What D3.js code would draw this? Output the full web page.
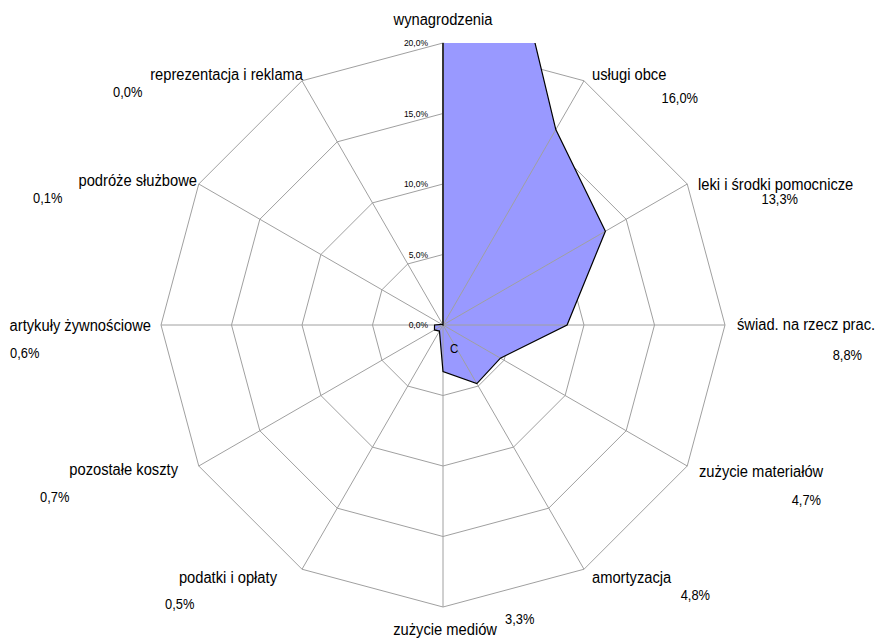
<!DOCTYPE html>
<html><head><meta charset="utf-8">
<script src="https://cdn.jsdelivr.net/npm/d3@7"></script>
<style>body{margin:0;background:#fff}svg{display:block}text{font-family:"Liberation Sans",Arial,sans-serif}</style>
</head><body>
<svg id="chart" width="877" height="638"></svg>
<script>
const categories = ["wynagrodzenia","usługi obce","leki i środki pomocnicze","świad. na rzecz prac.","zużycie materiałów","amortyzacja","zużycie mediów","podatki i opłaty","pozostałe koszty","artykuły żywnościowe","podróże służbowe","reprezentacja i reklama"];
const values = [47.2,16.0,13.3,8.8,4.7,4.8,3.3,0.5,0.7,0.6,0.1,0.0];
const valueLabels = ["47,2%","16,0%","13,3%","8,8%","4,7%","4,8%","3,3%","0,5%","0,7%","0,6%","0,1%","0,0%"];
const tickValues = [0,5,10,15,20];
const tickLabels = ["0,0%","5,0%","10,0%","15,0%","20,0%"];

// layout (label anchor points: category label [x,y,anchor], value label [x,y,anchor])
const layout = [
  {c:[443,25,"middle"], v:null},
  {c:[592,80,"start"], v:[698,103,"end"]},
  {c:[698,190,"start"], v:[798,204,"end"]},
  {c:[737,330,"start"], v:[862,360,"end"]},
  {c:[699,477,"start"], v:[821,505,"end"]},
  {c:[592,583,"start"], v:[710,600,"end"]},
  {c:[497,635,"end"], v:[505,624,"start"]},
  {c:[277,583,"end"], v:[165,609,"start"]},
  {c:[178,475,"end"], v:[40,502,"start"]},
  {c:[151,331,"end"], v:[10,358,"start"]},
  {c:[197,186,"end"], v:[33,203,"start"]},
  {c:[303,80,"end"], v:[113,97,"start"]}
];

const cx = 443, cy = 325, R = 282;
const svg = d3.select("#chart");
const r = d3.scaleLinear().domain([0,20]).range([0,R]);
const ang = d3.scaleLinear().domain([0,categories.length]).range([0,2*Math.PI]);
const pt = (i,v) => [cx + r(v)*Math.sin(ang(i)), cy - r(v)*Math.cos(ang(i))];

function label(x, y, anchor, size, txt) {
  svg.append("text").attr("transform", `translate(${x},${y}) scale(0.92,1)`)
    .attr("text-anchor", anchor).attr("font-size", size).attr("fill", "#000").text(txt);
}

svg.append("defs").append("clipPath").attr("id","clip")
  .append("rect").attr("x",cx-R).attr("y",cy-R).attr("width",2*R).attr("height",2*R);

// rings
tickValues.slice(1).forEach(t => {
  svg.append("polygon")
    .attr("points", categories.map((c,i)=>pt(i,t).join(",")).join(" "))
    .attr("fill","none").attr("stroke","#a0a0a0").attr("stroke-width",1);
});

// area fill
const line = d3.line().curve(d3.curveLinearClosed);
const pts = values.map((v,i)=>pt(i,v));
svg.append("path").attr("d", line(pts)).attr("fill","#9999ff").attr("stroke","none").attr("clip-path","url(#clip)");

// spokes
categories.forEach((c,i) => {
  const e = pt(i,20);
  svg.append("line").attr("x1",cx).attr("y1",cy).attr("x2",e[0]).attr("y2",e[1])
    .attr("stroke", i===0 ? "#808080" : "#a0a0a0").attr("stroke-width", i===0 ? 1.8 : 1);
});

// area stroke
svg.append("path").attr("d", line(pts)).attr("fill","none").attr("stroke","#000").attr("stroke-width",1.2).attr("clip-path","url(#clip)");

// tick labels
tickValues.forEach((t,k) => {
  svg.append("text").attr("x",428).attr("y",cy - r(t) + 3)
    .attr("text-anchor","end").attr("font-size",8.5).attr("fill","#000").text(tickLabels[k]);
});

// category + value labels
categories.forEach((c,i) => {
  const L = layout[i];
  label(L.c[0], L.c[1], L.c[2], 16, c);
  if (L.v) label(L.v[0], L.v[1], L.v[2], 14, valueLabels[i]);
});

label(450, 353, "start", 12.5, "C");
</script>
</body></html>
